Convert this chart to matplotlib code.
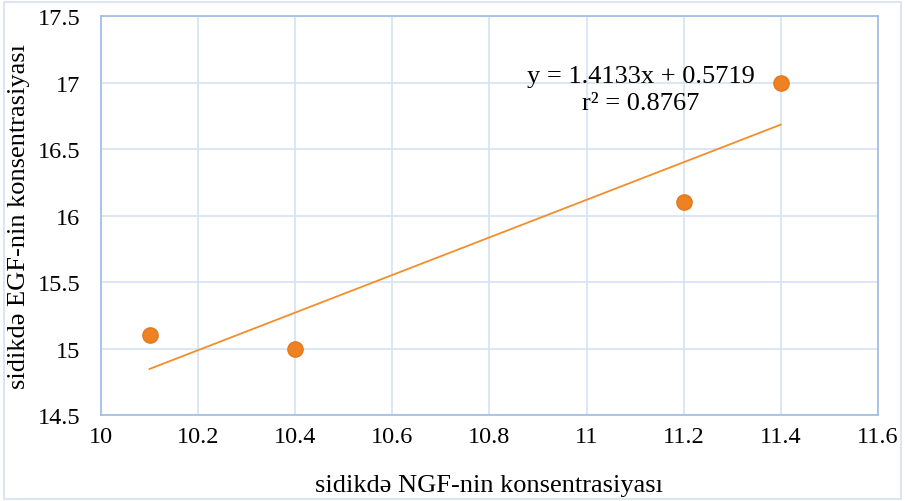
import matplotlib.pyplot as plt
from matplotlib.patches import Rectangle

plt.rcParams['font.family'] = ['Liberation Serif', 'DejaVu Serif']

ngf = [10.1, 10.4, 11.2, 11.4]
egf = [15.1, 15.0, 16.1, 17.0]
slope, intercept = 1.4133, 0.5719
x_ticks = [10, 10.2, 10.4, 10.6, 10.8, 11, 11.2, 11.4, 11.6]
y_ticks = [14.5, 15, 15.5, 16, 16.5, 17, 17.5]

fig = plt.figure(figsize=(9.05, 5.02), dpi=100)
ax = fig.add_axes([0.1116, 0.1713, 0.8584, 0.7947])

fig.patches.append(Rectangle((0.004, 0.004), 0.992, 0.99, transform=fig.transFigure,
                             fill=False, edgecolor='#D6E2F1', lw=1.2))

trend_x = [ngf[0], ngf[-1]]
trend_y = [slope * x + intercept for x in trend_x]
ax.plot(trend_x, trend_y, color='#F28E2B', lw=1.3, zorder=3)
ax.plot(ngf, egf, 'o', ms=11, color='#EE8223', markeredgecolor='#E07A1F', zorder=4)

ax.set_xlim(10, 11.6)
ax.set_ylim(14.5, 17.5)
ax.set_xticks(x_ticks)
ax.set_yticks(y_ticks)
ax.set_xticklabels(['10', '10.2', '10.4', '10.6', '10.8', '11', '11.2', '11.4', '11.6'])
ax.set_yticklabels(['14.5', '15', '15.5', '16', '16.5', '17', '17.5'])
ax.tick_params(length=0, labelsize=17.5, colors='black')
ax.tick_params(axis='y', pad=15)
ax.tick_params(axis='x', pad=8)
ax.grid(color='#D5E2F3', lw=1.2)
ax.set_axisbelow(True)
for s in ax.spines.values():
    s.set_color('#9DBCE4')
    s.set_linewidth(1.2)

ax.set_xlabel('sidikdə NGF-nin konsentrasiyası', fontsize=19, labelpad=19)
ax.set_ylabel('sidikdə EGF-nin konsentrasiyası', fontsize=19, labelpad=5)

ax.text(11.112, 16.95, 'y = 1.4133x + 0.5719\nr² = 0.8767', fontsize=19,
        ha='center', va='center', linespacing=1.3)

fig.savefig('out.png', dpi=100)
